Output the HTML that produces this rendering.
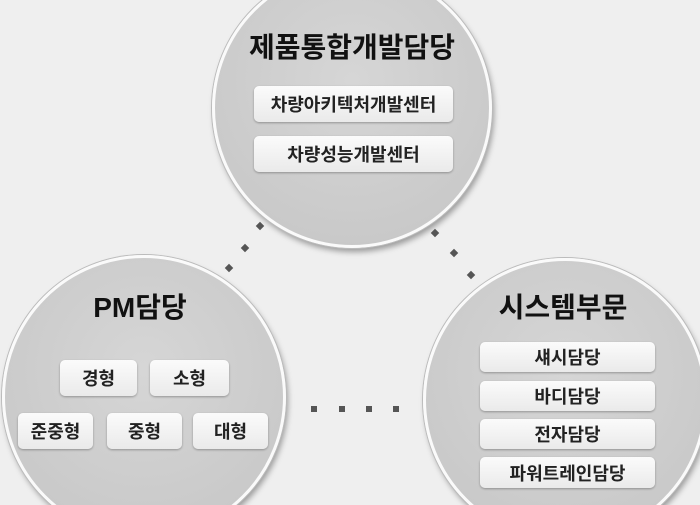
<!DOCTYPE html>
<html><head><meta charset="utf-8"><style>
html,body{margin:0;padding:0;width:700px;height:505px;overflow:hidden}
#w{position:relative;width:700px;height:505px;overflow:hidden;background:#efefef;font-family:"Liberation Sans","Noto Sans CJK KR","NanumGothic",sans-serif;font-weight:bold;color:#1a1a1a}
.c{position:absolute;border-radius:50%;background:radial-gradient(circle at 50% 40%,#d6d6d6,#c9c9c9 75%,#bdbdbd);border:3px solid #fafafa;box-shadow:0 0 0 1px #bbb,2px 4px 6px rgba(0,0,0,.35);box-sizing:border-box}
.t{position:absolute;text-align:center;font-size:28px;color:#111}
.b{position:absolute;background:linear-gradient(#fbfbfb,#eaeaea);border-radius:5px;box-shadow:0 1px 2px rgba(0,0,0,.3);text-align:center;font-size:18px;color:#222;display:flex;align-items:center;justify-content:center}
.d{position:absolute;width:6px;height:6px;background:#555;transform:rotate(45deg)}
</style></head><body><div id="w">
<div class="c" style="left:212px;top:-32px;width:280px;height:280px"></div>
<div class="c" style="left:2px;top:255px;width:284px;height:284px"></div>
<div class="c" style="left:423px;top:258px;width:284px;height:284px"></div>

<div class="t" style="left:232px;top:26px;width:240px">제품통합개발담당</div>
<div class="b" style="left:254px;top:86px;width:199px;height:36px">차량아키텍처개발센터</div>
<div class="b" style="left:254px;top:136px;width:199px;height:36px">차량성능개발센터</div>

<div class="t" style="left:60px;top:286px;width:160px">PM담당</div>
<div class="b" style="left:60px;top:360px;width:77px;height:36px">경형</div>
<div class="b" style="left:150px;top:360px;width:79px;height:36px">소형</div>
<div class="b" style="left:18px;top:413px;width:75px;height:36px">준중형</div>
<div class="b" style="left:107px;top:413px;width:75px;height:36px">중형</div>
<div class="b" style="left:193px;top:413px;width:75px;height:36px">대형</div>

<div class="t" style="left:483px;top:286px;width:160px">시스템부문</div>
<div class="b" style="left:480px;top:342px;width:175px;height:30px">섀시담당</div>
<div class="b" style="left:480px;top:381px;width:175px;height:30px">바디담당</div>
<div class="b" style="left:480px;top:419px;width:175px;height:30px">전자담당</div>
<div class="b" style="left:480px;top:457px;width:175px;height:31px">파워트레인담당</div>

<div class="d" style="left:257px;top:223px"></div>
<div class="d" style="left:242px;top:245px"></div>
<div class="d" style="left:226px;top:265px"></div>
<div class="d" style="left:432px;top:230px"></div>
<div class="d" style="left:451px;top:250px"></div>
<div class="d" style="left:468px;top:272px"></div>
<div class="d" style="left:311px;top:406px;transform:none"></div>
<div class="d" style="left:339px;top:406px;transform:none"></div>
<div class="d" style="left:366px;top:406px;transform:none"></div>
<div class="d" style="left:393px;top:406px;transform:none"></div>
</div></body></html>
